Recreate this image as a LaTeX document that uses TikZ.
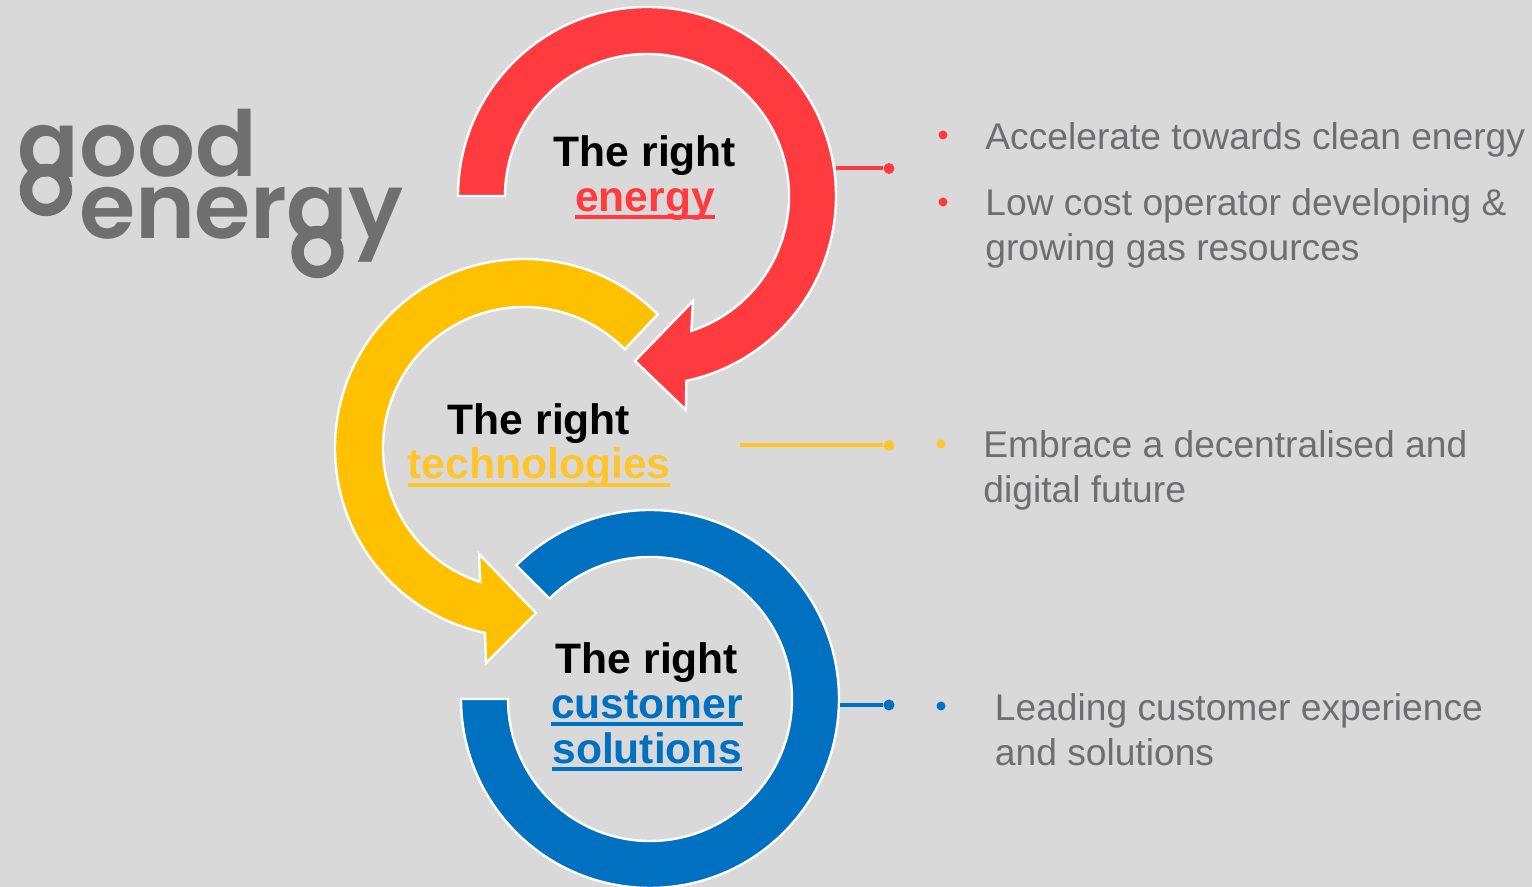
\documentclass[tikz,border=0pt]{standalone}
\usepackage{fontspec}
\setmainfont{Liberation Sans}
\newfontfamily\logofont{Poppins SemiBold}
\definecolor{bgc}{HTML}{D9D9D9}
\definecolor{redc}{HTML}{FF3B3F}
\definecolor{yelc}{HTML}{FFC000}
\definecolor{yeltxt}{HTML}{FFC52B}
\definecolor{bluc}{HTML}{0070C0}
\definecolor{logoc}{HTML}{6F6F6F}
\definecolor{txtc}{HTML}{6E6E70}
\newcommand{\ulin}[2]{\setbox0\hbox{#2}\rlap{\usebox0}\rule[-#1]{\wd0}{2pt}}
\tikzset{
  x=0.5pt,y=0.5pt,
  ring/.style={line width=1.2pt,draw=white,line join=miter},
  headlabel/.style={inner sep=0pt,align=center,font=\bfseries\fontsize{21.3}{22.4}\selectfont},
  para/.style={inner sep=0pt,align=left,anchor=north west,text=txtc,font=\fontsize{18.6}{22.5}\selectfont},
  logotext/.style={inner sep=0pt,anchor=base west,text=logoc,font=\logofont\fontsize{45.5}{50}\selectfont},
  ringlink/.style={line width=2pt},
  enddot/.style={circle,inner sep=0pt,minimum size=5.5pt},
  bullet/.style={circle,inner sep=0pt,minimum size=4.5pt},
}
\begin{document}
\begin{tikzpicture}
\useasboundingbox (0,0) rectangle (1532,887);
\fill[bgc] (0,0) rectangle (1532,887);

% logo
\node[logotext,text depth=0pt] (good) at (17,710) {good};
\fill[bgc] (14,710) rectangle (78,655);
\draw[logoc,line width=6.2pt] (46,697) circle (20);
\node[logotext] (energy) at (79,648) {\addfontfeature{LetterSpace=-0.5}energy};
\fill[bgc] (288,648) rectangle (350,595);
\draw[logoc,line width=6.2pt] (317.5,635) circle (20);

% rings
\begin{scope}[shift={(650,188)}]
\draw[ring,fill=bluc] (135:189) arc (135:-180:189) -- (-180:142) arc (-180:135:142) -- cycle;
\end{scope}
\begin{scope}[shift={(524,439)}]
\draw[ring,fill=yelc] (45:189) arc (45:258.1:189) -- (-38,-215) -- (12,-165) -- (-45,-106) -- (251.9:141) arc (251.9:44.4:141) -- cycle;
\end{scope}
\begin{scope}[shift={(647,691)}]
\draw[ring,fill=redc] (180:189) arc (180:-78:189) -- (39,-214) -- (-12,-165) -- (46,-105) -- (-71.8:142) arc (-71.8:180:142) -- cycle;
\end{scope}

% headings
\node[headlabel] (h1) at (645,709) {The right\\[0pt]\textcolor{redc}{\ulin{4pt}{energy}}};
\node[headlabel] (h2) at (539,441.5) {The right\\[0pt]\textcolor{yeltxt}{\ulin{4pt}{technologies}}};
\node[headlabel] (h3) at (647,180) {The right\\[0pt]\textcolor{bluc}{\ulin{4pt}{customer}}\\[0pt]\textcolor{bluc}{\ulin{4pt}{solutions}}};

% connectors
\coordinate (s1) at (836,718.5);
\node[enddot,fill=redc] (e1) at (889,718.5) {};
\draw[ringlink,redc] (s1) -- (e1);
\coordinate (s2) at (740,441.5);
\node[enddot,fill=yeltxt] (e2) at (889,441.5) {};
\draw[ringlink,yeltxt] (s2) -- (e2);
\coordinate (s3) at (840,182);
\node[enddot,fill=bluc] (e3) at (889,182) {};
\draw[ringlink,bluc] (s3) -- (e3);

% bullets
\node[bullet,fill=redc] (b1) at (943,752) {};
\node[bullet,fill=redc] (b2) at (943,685) {};
\node[bullet,fill=yeltxt] (b3) at (941,443) {};
\node[bullet,fill=bluc] (b4) at (941,181) {};

% right-hand text
\node[para] (t1) at (985,765) {Accelerate towards clean energy};
\node[para] (t2) at (985,699) {Low cost operator developing \&\\[0pt]growing gas resources};
\node[para] (t3) at (983,457) {Embrace a decentralised and\\[0pt]digital future};
\node[para] (t4) at (994.5,194) {Leading customer experience\\[0pt]and solutions};
\end{tikzpicture}
\end{document}
